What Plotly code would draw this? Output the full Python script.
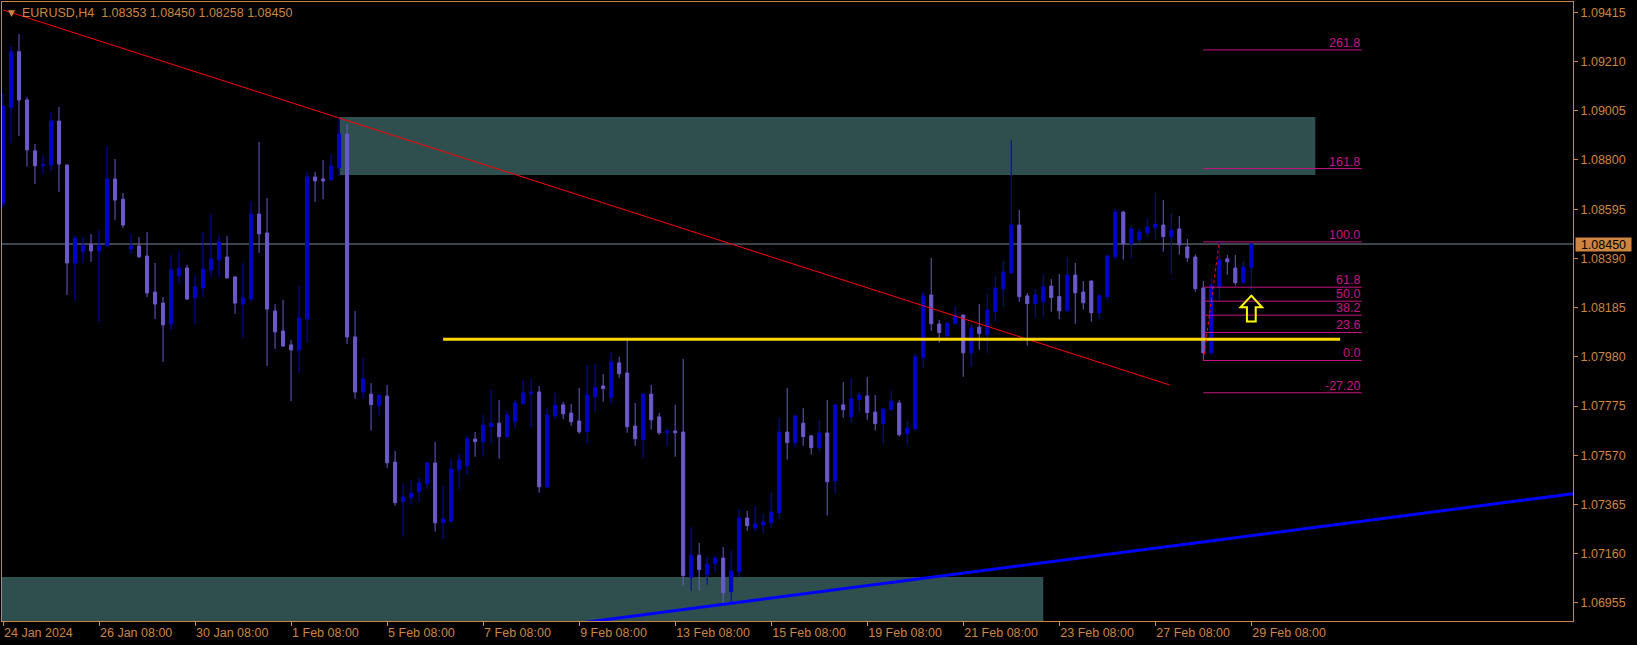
import plotly.graph_objects as go

# ---------------- data (EURUSD H4) ----------------
bars = list(range(157))
open_ = [1.08620,1.09018,1.09251,1.09050,1.08838,1.08776,1.08779,1.08962,1.08779,1.08371,
         1.08418,1.08449,1.08421,1.08443,1.08721,1.08637,1.08429,1.08442,1.08400,1.08250,
         1.08204,1.08117,1.08317,1.08350,1.08225,1.08267,1.08342,1.08384,1.08396,1.08313,
         1.08200,1.08221,1.08575,1.08496,1.08171,1.08088,1.08030,1.08009,1.08138,1.08729,
         1.08721,1.08717,1.08767,1.08908,1.08063,1.07834,1.07825,1.07777,1.07817,1.07542,
         1.07377,1.07394,1.07419,1.07452,1.07538,1.07289,1.07296,1.07510,1.07527,1.07638,
         1.07627,1.07689,1.07704,1.07648,1.07710,1.07785,1.07827,1.07834,1.07438,1.07735,
         1.07780,1.07746,1.07713,1.07668,1.07814,1.07859,1.07810,1.07955,1.07913,1.07692,
         1.07635,1.07825,1.07730,1.07664,1.07671,1.07667,1.07062,1.07154,1.07073,1.07119,
         1.07142,1.07002,1.07085,1.07309,1.07268,1.07280,1.07289,1.07331,1.07667,1.07623,
         1.07704,1.07651,1.07602,1.07663,1.07463,1.07780,1.07731,1.07802,1.07817,1.07750,
         1.07702,1.07760,1.07788,1.07660,1.07681,1.07977,1.08238,1.08117,1.08068,1.08118,
         1.08154,1.07997,1.08104,1.08073,1.08168,1.08264,1.08331,1.08529,1.08234,1.08202,
         1.08210,1.08275,1.08231,1.08172,1.08321,1.08250,1.08296,1.08164,1.08231,1.08397,
         1.08583,1.08451,1.08468,1.08497,1.08518,1.08529,1.08481,1.08513,1.08438,1.08396,
         1.08267,1.07997,1.08272,1.08388,1.08350,1.08289,1.08353]
high = [1.09078,1.09275,1.09325,1.09061,1.08867,1.08821,1.09000,1.09021,1.08782,1.08484,
        1.08478,1.08492,1.08508,1.08858,1.08804,1.08663,1.08492,1.08479,1.08500,1.08371,
        1.08229,1.08404,1.08421,1.08363,1.08321,1.08500,1.08575,1.08488,1.08484,1.08315,
        1.08371,1.08629,1.08875,1.08642,1.08200,1.08217,1.08050,1.08275,1.08750,1.08750,
        1.08800,1.08825,1.08979,1.08950,1.08171,1.07975,1.07871,1.07821,1.07863,1.07588,
        1.07452,1.07467,1.07477,1.07542,1.07626,1.07442,1.07555,1.07576,1.07652,1.07667,
        1.07738,1.07842,1.07800,1.07755,1.07800,1.07884,1.07888,1.07859,1.07767,1.07830,
        1.07792,1.07784,1.07850,1.07946,1.07950,1.07909,1.08000,1.07980,1.08060,1.07788,
        1.07827,1.07863,1.07746,1.07680,1.07780,1.07971,1.07271,1.07205,1.07147,1.07155,
        1.07188,1.07172,1.07346,1.07338,1.07360,1.07327,1.07417,1.07727,1.07850,1.07738,
        1.07767,1.07655,1.07717,1.07800,1.07782,1.07875,1.07892,1.07834,1.07896,1.07821,
        1.07765,1.07838,1.07800,1.07713,1.07992,1.08250,1.08392,1.08134,1.08123,1.08192,
        1.08156,1.08117,1.08200,1.08242,1.08317,1.08379,1.08883,1.08592,1.08246,1.08263,
        1.08321,1.08304,1.08325,1.08396,1.08371,1.08296,1.08298,1.08242,1.08404,1.08596,
        1.08588,1.08529,1.08513,1.08554,1.08663,1.08634,1.08579,1.08567,1.08471,1.08406,
        1.08296,1.08309,1.08459,1.08404,1.08404,1.08379,1.08450]
low = [1.08603,1.08870,1.08900,1.08772,1.08700,1.08742,1.08755,1.08667,1.08238,1.08213,
       1.08370,1.08376,1.08125,1.08440,1.08550,1.08517,1.08409,1.08392,1.08229,1.08138,
       1.07959,1.08092,1.08284,1.08217,1.08117,1.08229,1.08313,1.08313,1.08306,1.08159,
       1.08059,1.08209,1.08413,1.07942,1.08013,1.08022,1.07796,1.07913,1.08038,1.08625,
       1.08637,1.08714,1.08733,1.08034,1.07805,1.07805,1.07673,1.07731,1.07518,1.07360,
       1.07231,1.07364,1.07373,1.07430,1.07252,1.07223,1.07289,1.07430,1.07489,1.07564,
       1.07564,1.07620,1.07556,1.07643,1.07681,1.07781,1.07685,1.07414,1.07435,1.07721,
       1.07721,1.07693,1.07660,1.07619,1.07748,1.07793,1.07785,1.07893,1.07664,1.07610,
       1.07560,1.07677,1.07656,1.07606,1.07564,1.07027,1.07006,1.07006,1.07031,1.07081,
       1.06948,1.06960,1.07064,1.07256,1.07252,1.07244,1.07268,1.07305,1.07552,1.07606,
       1.07610,1.07573,1.07585,1.07319,1.07410,1.07727,1.07706,1.07748,1.07718,1.07673,
       1.07618,1.07758,1.07648,1.07614,1.07673,1.07935,1.08089,1.08039,1.08052,1.08116,
       1.07897,1.07939,1.08010,1.07997,1.08127,1.08189,1.08326,1.08210,1.08027,1.08143,
       1.08147,1.08168,1.08137,1.08168,1.08118,1.08177,1.08127,1.08139,1.08218,1.08385,
       1.08385,1.08393,1.08451,1.08481,1.08468,1.08418,1.08326,1.08406,1.08376,1.08252,
       1.07964,1.07989,1.08214,1.08322,1.08277,1.08285,1.08258]
close = [1.09025,1.09251,1.09050,1.08842,1.08776,1.08782,1.08962,1.08783,1.08371,1.08475,
         1.08445,1.08421,1.08445,1.08721,1.08633,1.08529,1.08442,1.08397,1.08246,1.08200,
         1.08113,1.08342,1.08350,1.08221,1.08271,1.08346,1.08388,1.08459,1.08309,1.08204,
         1.08225,1.08575,1.08492,1.08179,1.08084,1.08025,1.08009,1.08142,1.08729,1.08713,
         1.08713,1.08775,1.08908,1.08063,1.07834,1.07888,1.07781,1.07820,1.07539,1.07373,
         1.07396,1.07413,1.07455,1.07538,1.07289,1.07305,1.07513,1.07551,1.07638,1.07627,
         1.07696,1.07703,1.07648,1.07738,1.07788,1.07830,1.07834,1.07439,1.07738,1.07778,
         1.07743,1.07710,1.07668,1.07821,1.07853,1.07848,1.07959,1.07910,1.07689,1.07639,
         1.07825,1.07718,1.07664,1.07671,1.07664,1.07069,1.07154,1.07094,1.07117,1.07142,
         1.06998,1.07088,1.07309,1.07277,1.07284,1.07292,1.07334,1.07667,1.07623,1.07734,
         1.07648,1.07602,1.07663,1.07460,1.07780,1.07760,1.07805,1.07821,1.07748,1.07702,
         1.07763,1.07796,1.07656,1.07684,1.07980,1.08234,1.08118,1.08081,1.08121,1.08154,
         1.07997,1.08100,1.08077,1.08175,1.08267,1.08334,1.08529,1.08231,1.08202,1.08238,
         1.08271,1.08227,1.08172,1.08321,1.08247,1.08206,1.08164,1.08234,1.08400,1.08583,
         1.08451,1.08513,1.08500,1.08521,1.08533,1.08481,1.08508,1.08447,1.08393,1.08264,
         1.07997,1.08279,1.08384,1.08376,1.08289,1.08354,1.08450]

tick_bars = [0, 12, 24, 36, 48, 60, 72, 84, 96, 108, 120, 132, 144, 156]
tick_labels = ["24 Jan 2024", "26 Jan 08:00", "30 Jan 08:00", "1 Feb 08:00", "5 Feb 08:00",
               "7 Feb 08:00", "9 Feb 08:00", "13 Feb 08:00", "15 Feb 08:00", "19 Feb 08:00",
               "21 Feb 08:00", "23 Feb 08:00", "27 Feb 08:00", "29 Feb 08:00"]
price_ticks = [1.06955, 1.07160, 1.07365, 1.07570, 1.07775, 1.07980, 1.08185,
               1.08390, 1.08595, 1.08800, 1.09005, 1.09210, 1.09415]

bid_price = 1.08450
title_text = "EURUSD,H4\u00a0\u00a01.08353 1.08450 1.08258 1.08450"

# zones: [x0, x1, y_bottom, y_top]
zone_supply = [42.1, 164.0, 1.08738, 1.08979]
zone_demand = [-2.0, 130.0, 1.06800, 1.07063]
# trend lines (anchor bars / prices)
red_x = [0.0, 145.8]
red_y = [1.09425, 1.07863]
blue_x = [72.0, 196.2]
blue_y = [1.06871, 1.07410]
yellow_x = [55.0, 167.1]
yellow_y = [1.08053, 1.08053]
# fibonacci
fib_x = [150.0, 169.8]
fib_low, fib_high = 1.07965, 1.08459
fib_levels = [261.8, 161.8, 100.0, 61.8, 50.0, 38.2, 23.6, 0.0, -27.2]
fib_texts = ["261.8", "161.8", "100.0", "61.8", "50.0", "38.2", "23.6", "0.0", "-27.20"]
fib_diag_x = [150.0, 152.0]
# signal arrow
arrow_bar = 156
arrow_top, arrow_bottom = 1.08235, 1.08127

# ---------------- styling ----------------
ORANGE = "#CD853F"
UP = "#0000CD"
DOWN = "#6A5ACD"
ZONE = "#2F4F4F"
FIB = "#C71585"
FONT = "Liberation Sans"

fig = go.Figure()
fig.add_trace(go.Candlestick(
    x=bars, open=open_, high=high, low=low, close=close,
    increasing=dict(line=dict(color=UP, width=1), fillcolor=UP),
    decreasing=dict(line=dict(color=DOWN, width=1), fillcolor=DOWN),
    whiskerwidth=0, hoverinfo="skip", showlegend=False))

fig.add_trace(go.Scatter(x=red_x, y=red_y, mode="lines",
                         line=dict(color="#FF0000", width=1), hoverinfo="skip", showlegend=False))
fig.add_trace(go.Scatter(x=blue_x, y=blue_y, mode="lines",
                         line=dict(color="#0000FF", width=3), hoverinfo="skip", showlegend=False))
fig.add_trace(go.Scatter(x=yellow_x, y=yellow_y, mode="lines",
                         line=dict(color="#FFD700", width=3), hoverinfo="skip", showlegend=False))
fig.add_trace(go.Scatter(x=fib_diag_x, y=[fib_low, fib_high], mode="lines",
                         line=dict(color="#FF0000", width=1, dash="dot"), hoverinfo="skip", showlegend=False))

shapes = []
for z in (zone_supply, zone_demand):
    shapes.append(dict(type="rect", xref="x", yref="y", x0=z[0], x1=z[1], y0=z[2], y1=z[3],
                       fillcolor=ZONE, line=dict(width=0), layer="below"))
shapes.append(dict(type="line", xref="paper", yref="y", x0=0, x1=1, y0=bid_price, y1=bid_price,
                   line=dict(color="#778899", width=1), layer="below"))

annotations = []
rng = fib_high - fib_low
for lv, tx in zip(fib_levels, fib_texts):
    yv = fib_low + rng * lv / 100.0
    shapes.append(dict(type="line", xref="x", yref="y", x0=fib_x[0], x1=fib_x[1], y0=yv, y1=yv,
                       line=dict(color=FIB, width=1)))
    annotations.append(dict(x=fib_x[1], y=yv, xref="x", yref="y", text=tx, showarrow=False,
                            xanchor="right", yanchor="bottom", yshift=-2,
                            font=dict(family=FONT, size=12.5, color=FIB)))

# signal arrow outline (built from anchor bar / prices)
head = arrow_top - (arrow_top - arrow_bottom) * 0.45
hw, sw = 1.35, 0.55
pts = [(arrow_bar, arrow_top), (arrow_bar + hw, head), (arrow_bar + sw, head),
       (arrow_bar + sw, arrow_bottom), (arrow_bar - sw, arrow_bottom), (arrow_bar - sw, head),
       (arrow_bar - hw, head)]
path = "M " + " L ".join(f"{px},{py}" for px, py in pts) + " Z"
shapes.append(dict(type="path", xref="x", yref="y", path=path,
                   line=dict(color="#FFFF00", width=2), fillcolor="rgba(0,0,0,0)"))

# title
annotations.append(dict(x=0, y=1, xref="paper", yref="paper", text="\u25bc", showarrow=False,
                        xanchor="left", yanchor="top", xshift=4, yshift=-4,
                        font=dict(family="DejaVu Sans", size=9, color=ORANGE)))
annotations.append(dict(x=0, y=1, xref="paper", yref="paper", text=title_text, showarrow=False,
                        xanchor="left", yanchor="top", xshift=18, yshift=-2,
                        font=dict(family=FONT, size=12.5, color=ORANGE)))
# current price label
annotations.append(dict(x=1, y=bid_price, xref="paper", yref="y", text=f"{bid_price:.5f}",
                        showarrow=False, xanchor="left", yanchor="middle", xshift=2,
                        bgcolor=ORANGE, borderpad=0, width=55, height=13,
                        font=dict(family=FONT, size=12.5, color="#000000")))

fig.update_layout(
    width=1637, height=645, autosize=False,
    margin=dict(l=2, r=64, t=2, b=24),
    paper_bgcolor="#000000", plot_bgcolor="#000000",
    shapes=shapes, annotations=annotations, showlegend=False,
    boxgap=0.45, hovermode=False,
    font=dict(family=FONT, size=12.5, color=ORANGE),
    xaxis=dict(range=[-0.125, 196.2], tickmode="array", tickvals=tick_bars, ticktext=tick_labels,
               ticks="outside", ticklen=4, tickcolor=ORANGE, ticklabelposition="outside right",
               showline=True, linecolor=ORANGE, linewidth=1, mirror=True,
               showgrid=False, zeroline=False, rangeslider=dict(visible=False),
               tickfont=dict(family=FONT, size=12.5, color=ORANGE)),
    yaxis=dict(range=[1.06880, 1.09458], side="right", tickmode="array", tickvals=price_ticks,
               ticktext=[f"{v:.5f}" for v in price_ticks],
               ticks="outside", ticklen=4, tickcolor=ORANGE,
               showline=True, linecolor=ORANGE, linewidth=1, mirror=True,
               showgrid=False, zeroline=False,
               tickfont=dict(family=FONT, size=12.5, color=ORANGE)),
)

fig.write_html("out.html", config={"displayModeBar": False},
               post_script="document.body.style.margin='0';document.body.style.background='#000';")
